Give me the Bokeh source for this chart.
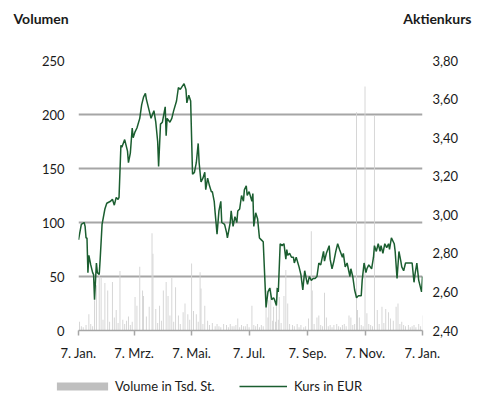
from bokeh.plotting import figure
from bokeh.layouts import column
from bokeh.models import (LinearAxis, Range1d, FixedTicker, Legend, LegendItem,
                          Label, CustomJSTickFormatter)
from bokeh.embed import file_html
from bokeh.resources import INLINE

# ---- data (x = days after 7 Jan) ----
tick_days = [0, 59, 120, 181, 243, 304, 365]
tick_labels = ["7. Jan.", "7. Mrz.", "7. Mai.", "7. Jul.", "7. Sep.", "7. Nov.", "7. Jan."]
vol_ticks = [0, 50, 100, 150, 200, 250]
price_ticks = [2.4, 2.6, 2.8, 3.0, 3.2, 3.4, 3.6, 3.8]

price_days = [0, 3, 6, 7, 8, 9, 10, 11, 13, 15, 16, 17, 19, 20, 22, 23, 25, 28, 30, 34,
              36, 38, 40, 42, 43, 45, 46, 49, 52, 53, 55, 57, 58, 60, 62, 65, 67, 69, 71, 72,
              75, 77, 80, 82, 84, 85, 87, 89, 92, 93, 94, 97, 99, 101, 104, 106, 108, 112, 114, 115,
              117, 119, 121, 123, 125, 127, 128, 130, 132, 134, 135, 137, 139, 141, 142, 144, 145, 147, 149, 151,
              152, 155, 157, 158, 161, 162, 164, 166, 168, 169, 171, 173, 175, 176, 178, 179, 181, 184, 185, 186,
              188, 190, 192, 194, 196, 199, 201, 203, 205, 207, 208, 210, 211, 212, 214, 216, 218, 220, 221, 222,
              224, 226, 228, 229, 231, 234, 236, 238, 240, 242, 243, 245, 247, 249, 251, 253, 255, 257, 260, 261,
              263, 266, 267, 269, 271, 273, 275, 277, 280, 281, 283, 285, 288, 289, 291, 293, 295, 297, 300, 301,
              303, 305, 306, 308, 311, 313, 314, 316, 318, 320, 321, 323, 325, 327, 329, 330, 332, 335, 336, 338,
              340, 342, 343, 345, 347, 350, 354, 356, 357, 359, 361, 364, 365]
price_eur = [2.87, 2.95, 2.96, 2.94, 2.88, 2.88, 2.70, 2.79, 2.74, 2.70, 2.69, 2.56, 2.75, 2.70, 2.69, 2.77, 2.95, 3.03, 3.06, 3.07,
             3.08, 3.05, 3.09, 3.08, 3.09, 3.36, 3.35, 3.39, 3.33, 3.27, 3.32, 3.45, 3.40, 3.43, 3.45, 3.50, 3.57, 3.61, 3.63, 3.60,
             3.54, 3.50, 3.54, 3.48, 3.38, 3.25, 3.47, 3.48, 3.56, 3.41, 3.50, 3.48, 3.50, 3.54, 3.59, 3.66, 3.65, 3.68, 3.65, 3.58,
             3.62, 3.59, 3.21, 3.22, 3.27, 3.37, 3.27, 3.17, 3.19, 3.22, 3.13, 3.19, 3.15, 3.12, 3.12, 3.07, 3.01, 2.90, 3.02, 3.07,
             2.96, 2.95, 2.91, 2.88, 2.96, 3.02, 2.94, 2.99, 2.96, 3.02, 3.03, 3.10, 3.07, 3.13, 3.15, 3.10, 3.12, 3.07, 3.11, 2.94,
             3.01, 2.98, 2.88, 2.87, 2.86, 2.52, 2.60, 2.62, 2.56, 2.57, 2.56, 2.53, 2.62, 2.60, 2.85, 2.84, 2.85, 2.77, 2.82, 2.79,
             2.80, 2.78, 2.78, 2.75, 2.78, 2.73, 2.69, 2.61, 2.71, 2.66, 2.64, 2.68, 2.66, 2.67, 2.67, 2.68, 2.75, 2.74, 2.81, 2.76,
             2.80, 2.84, 2.77, 2.72, 2.76, 2.81, 2.85, 2.82, 2.78, 2.80, 2.73, 2.75, 2.68, 2.72, 2.68, 2.61, 2.57, 2.58, 2.58, 2.66,
             2.75, 2.70, 2.72, 2.74, 2.72, 2.78, 2.84, 2.81, 2.85, 2.81, 2.84, 2.80, 2.85, 2.83, 2.85, 2.82, 2.88, 2.85, 2.81, 2.67,
             2.81, 2.76, 2.73, 2.71, 2.75, 2.75, 2.75, 2.65, 2.69, 2.75, 2.66, 2.60, 2.68]

vol_days = [1, 3, 5, 8, 11, 13, 15, 17, 19, 22, 24, 26, 28, 31, 33, 36, 38, 40, 42, 44,
            47, 49, 51, 53, 55, 57, 60, 62, 65, 68, 69, 72, 75, 78, 79, 82, 84, 86, 88, 90,
            93, 95, 97, 99, 101, 103, 106, 108, 111, 113, 116, 118, 120, 122, 125, 127, 129, 130, 132, 134,
            137, 139, 142, 145, 147, 149, 151, 154, 157, 159, 161, 163, 165, 167, 169, 171, 173, 175, 177, 179,
            181, 184, 186, 188, 190, 192, 194, 196, 199, 201, 202, 204, 206, 207, 209, 210, 212, 213, 215, 218,
            220, 222, 224, 227, 229, 232, 234, 236, 239, 241, 244, 247, 248, 250, 253, 255, 257, 259, 261, 263,
            265, 267, 269, 271, 274, 276, 278, 280, 282, 284, 287, 289, 291, 293, 295, 296, 298, 300, 302, 304,
            306, 308, 310, 312, 314, 317, 319, 322, 324, 326, 329, 331, 334, 337, 339, 341, 343, 345, 347, 350,
            352, 354, 356, 358, 361, 363, 365]
vol_tsd = [8, 4, 3, 5, 15, 6, 4, 28, 42, 52, 49, 10, 44, 37, 8, 45, 12, 19, 7, 55,
           10, 6, 9, 13, 5, 8, 31, 23, 59, 37, 32, 13, 22, 90, 71, 20, 7, 23, 9, 37,
           45, 32, 14, 49, 8, 40, 14, 6, 17, 25, 15, 10, 62, 18, 15, 8, 54, 39, 6, 23,
           9, 5, 7, 4, 6, 4, 3, 6, 5, 3, 6, 4, 4, 5, 11, 3, 5, 4, 4, 6,
           3, 23, 5, 4, 6, 3, 5, 4, 37, 12, 28, 40, 9, 22, 8, 40, 10, 31, 7, 32,
           56, 25, 6, 5, 4, 6, 3, 5, 3, 4, 11, 92, 37, 6, 12, 14, 5, 4, 35, 12,
           4, 5, 3, 5, 6, 4, 3, 5, 6, 4, 14, 12, 5, 6, 202, 19, 12, 5, 4, 226,
           16, 6, 5, 4, 199, 19, 6, 22, 7, 20, 17, 11, 9, 22, 25, 6, 8, 5, 4, 5,
           3, 4, 5, 3, 6, 4, 14]

FONT = "Lato"
TXT = "#1a1a1a"
GRID = "#a6a6a6"
BAR = "#d4d4d4"
LINE = "#1b5e30"
W = 473

# ---- main chart ----
p = figure(width=W, height=366, output_backend="svg", toolbar_location=None,
           x_range=Range1d(0, 365), y_range=Range1d(0, 250),
           min_border_left=78, min_border_right=51, min_border_top=60, min_border_bottom=36)
p.outline_line_color = None
p.extra_y_ranges = {"price": Range1d(2.4, 3.8)}

p.vbar(x=vol_days, top=vol_tsd, width=1.0, fill_color=BAR, line_color=None)
p.line(x=price_days, y=price_eur, y_range_name="price", line_color=LINE, line_width=1.5)

xa = p.xaxis[0]
xa.ticker = FixedTicker(ticks=tick_days)
xa.major_label_overrides = {d: l for d, l in zip(tick_days, tick_labels)}
xa.axis_line_color = GRID
xa.axis_line_width = 1.5
xa.major_tick_line_color = GRID
xa.major_tick_line_width = 1.5
xa.major_tick_out = 5
xa.major_tick_in = 0
xa.minor_tick_line_color = None
xa.major_label_standoff = 9
xa.major_label_text_font = FONT
xa.major_label_text_font_size = "13px"
xa.major_label_text_color = TXT

ya = p.yaxis[0]
ya.ticker = FixedTicker(ticks=vol_ticks)
ya.axis_line_color = None
ya.major_tick_line_color = None
ya.minor_tick_line_color = None
ya.major_label_standoff = 8
ya.major_label_text_font = FONT
ya.major_label_text_font_size = "13px"
ya.major_label_text_color = TXT

ra = LinearAxis(y_range_name="price", ticker=FixedTicker(ticks=price_ticks),
                formatter=CustomJSTickFormatter(code="return tick.toFixed(2).replace('.', ',');"))
ra.axis_line_color = None
ra.major_tick_line_color = None
ra.minor_tick_line_color = None
ra.major_label_standoff = 4
ra.major_label_text_font = FONT
ra.major_label_text_font_size = "13px"
ra.major_label_text_color = TXT
p.add_layout(ra, "right")

p.xgrid.visible = False
p.ygrid.grid_line_color = GRID
p.ygrid.grid_line_width = 2

# axis titles in the top panel
p.add_layout(Label(x=-65, y=42, x_units="screen", y_units="screen", text="Volumen",
                   text_font=FONT, text_font_style="bold", text_font_size="14px",
                   text_color=TXT, text_align="left", text_baseline="middle"), "above")
p.add_layout(Label(x=393, y=25, x_units="screen", y_units="screen", text="Aktienkurs",
                   text_font=FONT, text_font_style="bold", text_font_size="14px",
                   text_color=TXT, text_align="right", text_baseline="middle"), "above")

# ---- legend strip (sample glyphs sit outside its visible range) ----
lg = figure(width=W, height=30, output_backend="svg", toolbar_location=None,
            x_range=Range1d(0, 1), y_range=Range1d(0, 1),
            x_axis_location=None, y_axis_location=None,
            min_border=0, min_border_left=0, min_border_right=0,
            min_border_top=0, min_border_bottom=0)
lg.frame_align = False
lg.outline_line_color = None
lg.xgrid.visible = False
lg.ygrid.visible = False
lbar = lg.vbar(x=[-5], top=[-5], width=1.0, fill_color="#bfbfbf", line_color=None)
lline = lg.line(x=[-6, -5], y=[-5, -5], line_color=LINE, line_width=1.5)
common = dict(orientation="horizontal", padding=0, margin=0, border_line_color=None,
              background_fill_alpha=0, label_text_font=FONT, label_text_font_size="13px",
              label_text_color=TXT, label_height=16, label_text_baseline="middle")
leg1 = Legend(items=[LegendItem(label="Volume in Tsd. St.", renderers=[lbar])],
              location=(50, 2), glyph_width=64, glyph_height=10, label_standoff=1, **common)
leg2 = Legend(items=[LegendItem(label="Kurs in EUR", renderers=[lline])],
              location=(239, 2), glyph_width=48, glyph_height=10, label_standoff=7, **common)
lg.add_layout(leg1, "center")
lg.add_layout(leg2, "center")

layout = column(p, lg, spacing=0)
open("out.html", "w").write(file_html(layout, INLINE))
